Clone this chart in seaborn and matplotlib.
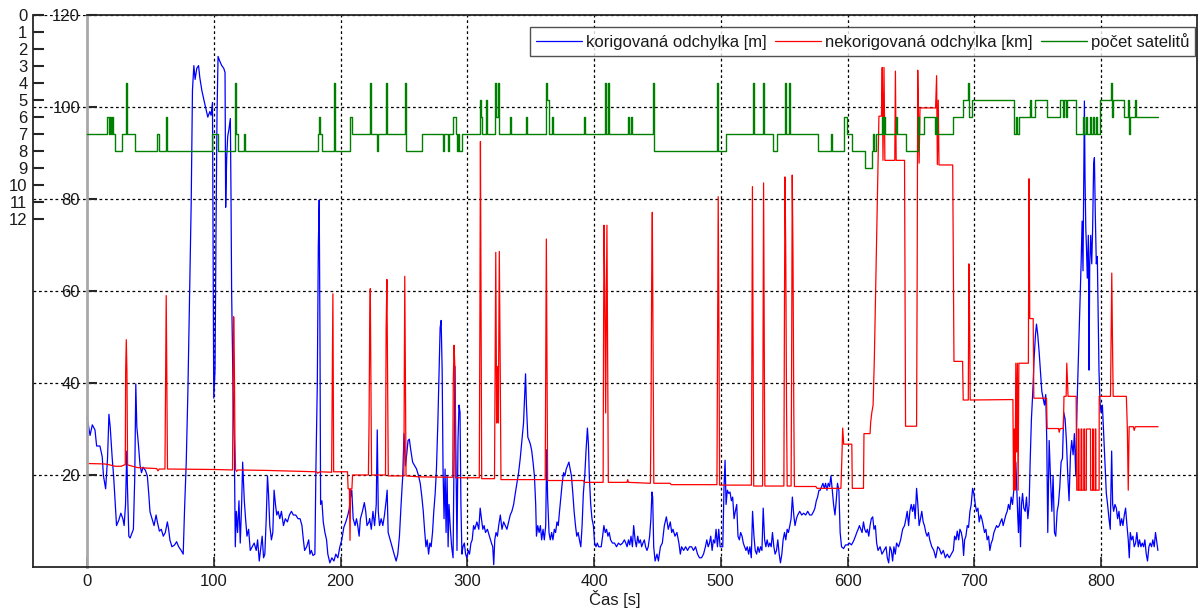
import matplotlib
matplotlib.use("Agg")
import matplotlib.pyplot as plt
import seaborn as sns

# ---------------- data ----------------
x_ticks = [0, 100, 200, 300, 400, 500, 600, 700, 800]
y_ticks = [20, 40, 60, 80, 100, 120]
sat_ticks = list(range(0, 13))
x_label = "Čas [s]"
legend_labels = ["korigovaná odchylka [m]", "nekorigovaná odchylka [km]", "počet satelitů"]

blue_pts = [
(0,32.5),(1,31),(2.4,28.6),(4.2,30.9),(6.3,29.8),(7.6,26.3),(10.2,26.3),(12,24),(13,19.8),(14.7,17),(16.2,23.6),(17.3,33.2),(18.3,30.5),(19.9,23.6),(21,19.8),(22,15.2),(23.3,9),(25.1,10.2),(26.7,11.7),(28.3,10.5),(29.3,9),(30.4,13.6),(31.4,25.2),(31.9,17.5),(33,6.7),(34,6.3),(35.6,7.5),(36.6,8.2),(37.7,19.8),(38.5,39.8),(39.3,30.5),(40.3,27.5),(41.9,22),(43,20.5),(44.2,21.7),(46.1,21),(47.6,19.8),(48.7,16),(49.7,12),(51.3,10.5),(52.9,9),(54.5,11.3),(55.5,9.8),(57.1,7.8),(58.6,8.2),(60.2,6.7),(61.8,7.5),(63.4,9.8),(64.4,8.2),(65.4,5.9),(67,4.4),(69.1,4.8),(70.7,5.5),(72.3,4.4),(74.3,3.6),(75.9,2.8),(77,12.8),(78.3,22.8),(79.6,38.2),(80.9,59),(82.2,79),(83.2,103.6),(84.3,109),(85.3,106),(86.6,108.4),(88,109),(89,106.4),(90.6,103.6),(92.1,101.7),(93.7,99.8),(95.3,97.8),(96.9,99),(97.9,98.2),(99,101),(99.5,71.3),(100,36.7),(101,42.8),(101.8,73.6),(102.6,99),(103.4,111),(104.7,110),(106.3,109),(107.9,108.4),(108.9,107.5),(109.4,78.2),(110.2,89),(111,93.6),(112,95.2),(113.1,97.5),(113.6,81.3),(114.1,59.8),(115.2,39),(116.2,26.7),(117,4.4),(117.8,12.1),(118.8,7.5),(119.9,14.4),(120.9,5.2),(122,13.6),(122.8,22.8),(124.1,14.4),(125.1,10.5),(126.2,6.7),(127.5,8.2),(128.8,3.6),(130.4,4.4),(131.9,5.2),(133.5,3.6),(134.6,5.9),(135.9,1.3),(137.2,4.4),(138.2,6.7),(139.3,2),(140.3,2.8),(141.4,10.5),(142.4,19.8),(143.2,16),(144.2,9),(145.5,5.9),(146.6,7.5),(147.6,16.7),(148.7,13.6),(149.7,11.3),(150.8,12.1),(152.1,10.5),(153.4,12.1),(155,9),(156.5,10.5),(158.1,9.8),(159.7,11.3),(161.3,12.1),(162.8,11.3),(164.7,11.3),(166.5,10.5),(168.1,10.5),(169.6,9),(170.7,5.9),(171.7,3.6),(173.3,4.4),(174.9,5.9),(175.9,2.8),(177,3.6),(178.3,2.5),(179.8,2.8),(180.6,21.3),(181.7,39.8),(182.5,69.8),(183.2,79.8),(183.8,50.5),(184.3,13.6),(185.3,14.4),(186.4,9.8),(187.7,7.5),(189,5.9),(190,2.8),(191.6,0.9),(193.2,2),(194.8,1.3),(196.3,2.8),(197.9,2),(199.5,4.4),(201,5.9),(202.6,8.6),(204.2,9.8),(205.8,11.3),(206.8,12.5),(207.9,15.2),(208.9,16.7),(210,10.5),(211.5,9),(212.6,10.5),(213.6,9),(214.7,6.7),(215.7,10.5),(217.3,12.1),(218.8,14),(219.9,12.1),(220.9,9),(222.5,9.8),
(223,10.5),(224.3,8.2),(225.6,12.1),(226.9,9),(228.2,13.6),(229,29.8),(229.8,12.1),(230.8,9),(232.1,10.5),(233.4,9),(234.7,11.3),(236,14.4),(236.8,16.7),(237.6,7.5),(239.2,5.9),(240.7,4.4),(242.3,2.8),(243.9,1.3),(245.2,2.8),(246.5,6.7),(247.8,13.6),(249.1,19.8),(250.1,29),(251.2,22),(252.2,24.4),(253.3,27.5),(254.3,27.8),(255.4,25.5),(256.9,22.8),(258.5,22),(260,21.3),(261.6,19.8),(262.9,18.2),(264.2,15.2),(265.3,12.1),(266.3,8.2),(267.4,4.4),(268.4,5.9),(269.5,2.8),(270.5,5.2),(271.5,4.4),(272.6,7.5),(273.6,12.1),(274.7,16),(275.7,21.3),(276.8,31.3),(277.8,42.8),(278.6,52),(279.4,53.6),(280.2,42.8),(280.9,21.3),(281.7,10.5),(282.5,21.3),(283.3,7.5),(284.1,19.8),(284.9,4.4),(285.6,13.6),(286.7,8.2),(287.7,4.4),(288.8,2),(289.6,24.4),(290.3,43.6),(291.1,23.6),(291.9,3.6),(292.7,27.5),(293.5,35.2),(294.3,33.6),(295,13.6),(295.8,2.8),(296.6,4.4),(297.7,5.2),(298.7,2.8),(299.7,2),(300.8,3.6),(301.8,2.8),(302.9,5.2),(303.9,5.9),(305,9),(306,8.2),(307.6,9.8),(309.1,8.2),(310.2,12.8),(311.2,10.5),(312.3,8.2),(313.3,9),(314.4,7.5),(315.9,8.2),(317.5,6.7),(319.1,5.2),(320.1,4.4),(320.9,0.5),(321.7,5.9),(322.7,7.5),(323.8,6.7),(324.8,9),(326.1,11.3),(327.4,8.2),(328.7,9.8),(330,9),(331.3,8.2),(332.6,9.8),(333.9,11.3),(335.2,12.1),(336.6,13.6),(337.9,16),(339.2,18.2),(340.5,20.5),(341.8,23.6),(343.1,27.5),(344.4,31.3),(345.2,36.7),(346,42),(346.7,35.2),(347.8,28.2),(348.8,27.5),(349.8,26.7),(350.9,25.2),(351.9,22.8),(353,19.8),(354,13.6),(354.6,6.7),(355.6,9),(356.7,7.5),(357.7,9),(358.7,5.9),(359.8,8.2),(360.8,5.9),(361.9,9),(362.7,25.5),(363.4,15.2),(364.5,7.5),(365.5,5.9),(366.6,7.5),(367.6,5.9),(368.7,8.2),(369.7,7.5),(370.8,9.8),(371.8,9),(372.8,12.1),(373.9,15.2),(374.9,18.2),(376,20.5),(377,19.8),(378.1,21.3),(379.1,22),(380.2,22.8),(381.2,21.3),(382.2,19.8),(383.3,16),(384.3,12.1),(385.4,9),(386.4,6.7),(387.5,7.5),(388.5,5.9),(389.6,4.4),(390.6,9),(391.6,16),(392.7,19.8),(393.7,25.2),(394.8,30.2),(395.6,26.7),(396.3,19.8),(397.4,13.6),(398.4,10.5),(399.5,9),(400.5,5.2),(401.6,4.4),(402.6,5.2),(403.7,4.4),(405.7,4.4),(406.8,6.7),(407.8,9),(408.9,7.5),(409.9,8.2),(411,6.7),(412,7.5),(413.1,5.9),(414.6,5.2),(416.2,5.2),(417.8,4.4),(419.3,5.2),(420.9,4.8),(422.5,5.2),(424,5.9),(425.1,5.2),(426.1,4.4),(427.2,5.9),(428.2,4.8),(429.2,6.7),(430.3,4.4),(431.3,9),(432.4,5.9),(433.4,4.4),(434.5,6.7),(435.5,5.2),(436.6,5.9),(437.6,4.4),(438.6,5.2),(439.7,5.9),(440.7,4.4),(441.8,3.6),(442.8,4.4),(443.9,6.7),(444.9,10.5),(445.7,16.3),
(446.3,15.2),(447.1,4.4),(448.2,1.3),(449.7,2.8),(450.8,1.3),(452.4,4.4),(453.9,5.2),(455.5,9),(457.1,10.9),(458.6,8.2),(460.2,9.8),(461.3,7.5),(462.3,8.2),(463.9,6.7),(465.4,7.5),(467,5.2),(468.1,2.8),(469.1,4.4),(470.7,3.6),(472.3,4.4),(473.8,3.6),(475.4,4.4),(477,4.4),(478.5,3.6),(480.1,4.4),(481.7,2.8),(483.2,2),(484.8,2),(486.4,2.8),(487.9,4.4),(489,5.9),(490.1,4.4),(491.1,5.2),(492.1,6.7),(493.2,3.6),(494.2,5.9),(495.3,5.2),(496.3,8.2),(497.4,4.4),(498.4,8.2),(499.5,4.4),(501.6,4.4),(502.6,17.5),(503.4,23.2),(504.2,13.6),(505.2,16.7),(506.3,16),(507.3,16.3),(508.4,14.4),(509.4,15.2),(510.5,10.5),(511.5,12.1),(512.6,13.6),(513.6,6.7),(514.7,5.9),(515.7,7.5),(516.8,6.7),(517.8,5.2),(518.8,4.4),(519.9,3.6),(520.9,4.4),(522,2.8),(523,4.4),(524.1,2),(525.1,12.1),(526.2,6.7),(527.2,3.6),(528.3,2.8),(529.3,4.4),(530.4,3.2),(531.4,4.4),(532.5,3.6),(533.5,12.8),(534.6,5.9),(535.6,4.4),(536.6,5.9),(537.7,4.4),(538.7,5.2),(539.8,4.4),(540.8,7.5),(541.9,4.4),(542.9,2.8),(544,3.6),(545,5.9),(546.1,2.8),(547.1,0.9),(548.2,2.8),(549.2,5.9),(550.3,7.5),(551.3,5.9),(552.4,8.2),(553.4,7.5),(554.5,9),(555.5,10.5),(556.5,15.2),(557.6,11.3),(558.6,9),(559.7,10.5),(560.7,11.3),(562.3,12.1),(563.9,11.3),(565.4,11.7),(567,11.3),(568.6,12.1),(570.2,11.3),(571.7,11.3),(573.3,12.1),(574.3,12.8),(575.4,14.4),(576.4,15.2),(577.5,16.7),(578.5,16.7),(579.6,17.5),(580.6,18.2),(581.7,17.1),(582.7,18.2),(583.8,16.7),(584.8,18.2),(585.9,17.5),(586.9,19.8),(588,16.7),(589,13.6),(590.1,11.3),(591.1,14.4),(592.1,18.2),(593.2,16.7),(594.2,7.5),(595.3,4.4),(596.9,4),(598.4,4.8),(600,4.8),(601.6,5.2),(603.1,4.8),(604.7,5.6),(606.3,6.7),(607.3,7.5),(608.4,8.2),(609.4,9),(610.5,8.2),(611.5,7.5),(612.6,9.8),(613.6,8.2),(614.7,7.5),(615.7,8.2),(616.8,6.7),(617.8,9),(618.8,10.5),(619.9,10.9),(620.9,8.2),(622,9),(623,5.2),(624.1,3.6),(625.7,4.4),(627.2,2.8),(628.8,3.6),(630.4,4.4),(631.4,2),(632.5,0.9),(633.5,4.4),(634.6,3.6),(635.6,1.3),(636.6,4.4),(637.7,2.8),(638.7,5.2),(640.3,4.4),(641.9,5.9),(643.5,8.2),(645,9),(646.1,10.5),(647.1,12.1),(648.2,9),(649.2,12.1),(650.3,13.6),(651.3,12.1),(652.4,13.6),(653.4,10.5),(654.5,17.1),(655.5,13.6),(656.5,9),(657.6,10.5),(658.6,12.1),(659.7,9.8),(660.7,9),(661.8,7.5),(662.8,6.7),(663.9,7.5),(664.9,5.9),(666.5,4.4),(668.1,3.6),(669.6,2),(671.2,4.4),(672.5,4),
(674,2.8),(675.6,3.6),(677.2,2),(678.7,2.8),(680.3,2),(681.9,2.8),(683.5,3.6),(684.5,6.7),(685.6,5.9),(686.6,7.8),(687.7,5.9),(688.7,8.2),(689.8,7.5),(690.8,5.9),(691.6,2.5),(692.4,5.9),(693.4,6.7),(694.5,9),(695.5,8.6),(696.6,12.1),(697.6,13.6),(698.7,17.1),(699.7,16),(700.8,13.6),(701.8,12.1),(702.9,12.8),(703.9,9.8),(705,11.3),(706,10.5),(707.1,9),(708.1,7.5),(709.2,8.2),(710.2,5.9),(711.3,6.7),(712.3,3.6),(713.4,5.2),(714.4,5.9),(715.5,7.5),(716.5,8.2),(717.6,9),(718.6,8.6),(719.7,9),(720.7,9.8),(721.8,10.5),(722.8,9),(723.9,10.2),(724.9,11.3),(726,12.1),(727,13.6),(728.1,12.5),(729.1,15.2),(730.2,13.6),(731.2,16.7),(732,19.8),(732.8,22.8),(733.6,16.7),(734.4,10.5),(734.9,7.5),(735.7,15.2),(736.5,4.4),(737.3,13.6),(738.1,16),(739.1,12.8),(740.2,12.1),(741.2,15.2),(742.3,10.5),(743.3,13.6),(744.1,22.8),(745.1,32.1),(746.2,38.2),(747.2,45.2),(748.3,50.5),(749.1,52.8),(750.1,50.5),(751.2,46.7),(752.2,42.8),(753.3,38.2),(754.3,36.7),(755.4,35.2),(756.4,37.5),(757.2,27.5),(758,7.5),(759.1,27.5),(760.1,19.8),(761.2,12.1),(762.2,19.8),(763.3,7.5),(764.3,6.7),(765.4,12.1),(766.4,13.6),(767.5,17.5),(768.5,22.8),(769.6,23.6),(770.6,33.6),(771.7,32.1),(772.7,27.5),(773.8,19.8),(774.8,14.4),(775.9,24.4),(776.9,27.5),(778,24.4),(779,29),(780.1,19.8),(781.1,35.2),(782.2,45.9),(783.2,55.2),(784.3,65.9),(785.1,75.2),(785.8,64.4),(786.4,85.9),(786.9,101.3),(787.4,84.4),(788,73.6),(788.5,69.8),(789.2,62.8),(790,72.1),(790.6,42.8),(791.1,65.9),(791.9,72.1),(792.7,65.9),(793.4,73.6),(794.2,87.5),(794.8,89),(795.5,76.7),(796.3,65.9),(797.1,67.5),(797.6,58.2),(798.4,42.8),(799.2,35.9),(800,33.6),(801.1,35.2),(802.1,29),(803.1,22.8),(804.2,16),(805.2,13.6),(806.3,10.5),(807.3,8.2),(808.4,25.2),(809.2,13.6),(810,12.1),(811,13.6),(812.1,12.8),(813.1,10.5),(814.2,12.1),(815.2,9),(816.3,10.5),(817.3,9),(818.4,11.3),(819.4,12.8),(820.5,9),(821.5,5.9),(822.3,2),(823.1,7.5),(824.1,5.9),(825.2,6.7),(826.2,4.4),(827.3,5.2),(828.3,7.5),(829.4,4.4),(830.4,5.9),(831.5,4.4),(832.5,5.2),(833.6,4.4),(834.6,5.9),(835.7,2.8),(836.7,1.3),(837.8,4.4),(838.8,5.2),(839.9,4.4),(840.9,5.9),(842,4.4),(843,7.5),(844.1,5.2),(844.9,3.6),
]
blue_t = [p[0] for p in blue_pts]
blue_v = [p[1] for p in blue_pts]

red_pts = [
(0,22.5),(14,22.4),(18,22.2),(22,21.9),(27,21.9),(29.5,22.2),(30.2,22.2),(30.5,42.5),(31,49.4),(31.5,42.5),(32,22.2),
(40,21.6),(55,21.4),(56,20.9),(57,21.3),(61.5,21.3),(62,40),(62.5,59),(63,40),(63.5,21.3),
(100,21.2),(114.8,21.1),(115.2,38),(115.7,54.4),(116.2,46),(116.7,28),(117.2,21.2),
(118,20.8),(119,21.1),(141,21),(181,20.7),(182,20.4),(184,20.7),(193,20.6),(193.5,40),(194,59.4),(194.6,20.7),
(205.5,20.7),(206,17),(207,17),(207.5,5.8),(208,17),(209,17),(209.5,20),
(222,20),(222.5,30.5),(223,51),(223.5,60.5),(224,40.5),(224.5,20),
(235.5,20),(236,51.7),(236.6,62.5),(237.2,40),(237.7,19.8),
(250,19.8),(250.7,63.2),(251.2,41.7),(251.7,19.8),
(262,19.6),(288.5,19.5),(289,40.9),(289.6,48.2),(290.2,43.6),(290.8,19.4),
(309.5,19.4),(310,55.5),(310.4,92.5),(310.9,55.5),(311.4,19.2),
(321.5,19.2),(322,43.6),(322.5,68.4),(323.2,31.3),(323.8,43.6),(324.5,31.3),(325.3,68.6),(326,43.6),(326.6,19),
(361.5,19),(362,45.9),(362.4,71.3),(362.9,45.9),(363.4,18.8),
(391.5,18.8),(392.5,18.4),(407.2,18.4),(407.5,46.7),(407.9,74.3),(408.5,60.5),(409.2,33.5),(409.8,60),(410.2,74.3),(410.8,46),(411.3,18.4),
(426,18.4),(426.6,19),(427.2,18.4),(444.5,18.2),(445,33),(445.5,62.5),(446,77.1),(446.6,48),(447.2,18.2),
(460,18.2),(461,17.9),(497,17.9),(497.5,49),(498,80.5),(498.6,49),(499.1,17.8),
(524.2,17.8),(524.6,50),(525,82.7),(525.5,50),(526,17.6),
(533,17.6),(533.4,50),(533.8,83.5),(534.3,50),(534.8,17.6),
(549.8,17.6),(550.2,51),(550.7,84.8),(551.3,67.5),(551.9,35),(552.4,17.6),
(555.5,17.6),(556,51),(556.4,85.2),(557,67.5),(557.6,35),(558.1,17.5),
(575,17.5),(576,17.1),(594.8,17.1),(595.5,23),(596.2,30.2),(597,26.7),(603.4,26.7),(603.8,17.1),(612.6,17.1),(613,29),(617.8,29),(618.3,31.5),(619.2,33.6),(620.2,35.2),(621.2,45.5),(622.2,60),(623.2,74.4),(624.2,88.4),(624.8,98),(626.8,98),(627.4,108.6),(628,88.4),(628.8,108.6),(629.5,88.4),(637.3,88.4),(637.8,107.8),(638.4,88.4),(645,88.4),(645.4,60),(645.8,30.6),(654.5,30.6),(655,66),(655.4,108),(655.9,99.8),(656.5,87.8),(657.2,99.8),(669.5,99.8),(670.3,106.8),(670.9,87.5),(671.6,101.5),(672.2,87.4),(683,87.4),(683.5,65.9),(684,44.7),(690.8,44.7),(691.3,36.3),(695.3,36.3),(695.8,65.9),(696.3,55),(696.8,36.3),
(730.5,36.4),(731,16.7),(731.6,30),(732.2,16.7),(732.8,44.3),(733.4,25),(734,44.3),(734.6,16.7),(735.2,44.3),(742.7,44.3),(743.2,84.4),(743.8,54),(746.5,54),(747,36.7),(757,36.7),(757.5,30.1),(766.5,30.1),(767,29.3),(767.8,30.1),(770.3,30.1),(770.8,37.1),(772.5,37.1),(773,44.3),(774,37.1),(780.4,37.1),(780.9,16.7),
(782,16.7),(782.1,30),(782.6,30),(782.7,16.7),(784.2,16.7),(784.3,30),(784.8,30),(784.9,16.7),(786.4,16.7),(786.5,30),(787,30),(787.1,16.7),(788.4,16.7),(788.5,30),(791.7,30),(791.8,16.7),(793.3,16.7),(793.4,30),(793.8,30),(793.9,16.7),(795.4,16.7),(795.5,30),(795.9,30),(796,16.7),(798.5,16.7),(798.6,37.1),
(807.5,37.1),(808,50.4),(808.5,63.9),(809,50.4),(809.6,37.1),(820,37.1),(820.8,30),(821.5,16.7),(822.2,30.5),(825.5,30.5),(826.2,29.7),(827,30.5),(845,30.5),
]
red_t = [p[0] for p in red_pts]
red_v = [p[1] for p in red_pts]

sat_pts = [
(0,7),(16,6),(17.5,7),(18,6),(19,7),(19.5,6),(20.5,7),(22,8),(27.5,7),(30.5,4),(31.5,7),(38,8),(55.5,7),(56.5,8),(62,6),(63,8),
(99,7),(103,8),(116.5,4),(117.3,7),(118.8,8),(123.8,7),(124.5,8),(182.5,7),(183,6),(183.8,7),(185.5,8),(194.5,4),(195.3,8),
(207.5,6),(209,7),(223,4),(223.8,7),(228.5,8),(229.3,7),(236,4),(236.8,7),(250.5,4),(251.3,8),(264.5,7),(280.6,8),(281.8,7),
(284.8,8),(285.5,7),(289,6),(290.8,7),(291.7,8),(292.5,7),(293.5,8),(295.8,7),(310,5),(310.7,6),(311.3,7),(314.5,5),(315.3,7),
(321.8,4),(322.6,6),(324,4),(324.8,7),(334,6),(334.8,7),(346,6),(346.8,7),(362.5,4),(363,5),(364.8,7),(366.8,6),(367.5,7),
(392.5,6),(393.2,7),(408.5,4),(409.5,7),(411,4),(411.8,7),(427,6),(427.8,7),(429.5,6),(430.3,7),(446.5,4),(447.3,8),
(497,4),(497.8,8),(504.5,7),(525.5,4),(526.2,7),(533.3,4),(534,7),(541.5,8),(544,7),(550.5,4),(551.3,7),(553.8,4),(554.7,7),
(577,8),(587,7),(587.7,8),(597.4,6),(599.3,7),(603.5,8),(613.5,9),(619,8),(620,7),(620.8,8),(622.8,7),(627,6),(627.8,7),
(628.5,6),(629.3,7),(638,6),(638.8,7),(646.5,8),(655.8,6),(656.5,7),(660,6),(669,7),(669.8,6),(670.8,7),(683.5,6),
(691.3,5),(695.3,4),(696.2,6),(698.5,5),(731,7),(733,6),(733.5,7),(735.5,6),(743.8,5),(745,6),(747.8,5),(757.3,6),
(767.5,5),(770,6),(770.8,5),(772.5,6),(773.5,5),(780.6,7),(785.5,6),(786.2,7),(788.5,6),(789.2,7),(791,6),(791.8,7),
(793.5,6),(794.2,7),(796,6),(796.7,7),(799,5),(808,4),(808.8,6),(809.8,5),(818.5,6),(821.5,5),(822,7),(822.8,6),
(826.5,5),(827.5,6),(845,6),
]
sat_t = [p[0] for p in sat_pts]
sat_n = [p[1] for p in sat_pts]

# ---------------- style ----------------
sns.set_theme(style="white")
plt.rcParams["font.family"] = ["Liberation Sans", "DejaVu Sans"]
plt.rcParams["axes.linewidth"] = 1.2

W, H = 1199, 608
fig = plt.figure(figsize=(W / 100, H / 100), dpi=100)
fig.patch.set_facecolor("white")
L, R, T, B = 33, 1197, 15, 567
ax = fig.add_axes([L / W, (H - B) / H, (R - L) / W, (B - T) / H])
ax.set_facecolor("white")

px_per = 1.2675  # px per second
x0 = (L - 87) / px_per
x1 = (R - 87) / px_per
ax.set_xlim(x0, x1)
ax.set_ylim(0, 120)

sns.lineplot(x=blue_t, y=blue_v, ax=ax, color="#0000ff", lw=0.9, sort=False, estimator=None)
h_blue = ax.lines[-1]
sns.lineplot(x=red_t, y=red_v, ax=ax, color="#ff0000", lw=0.9, sort=False, estimator=None)
h_red = ax.lines[-1]

ax.set_xticks(x_ticks)
ax.set_yticks(y_ticks)
ax.grid(True, color="black", linestyle=(0, (2.2, 2.2)), linewidth=0.9)
ax.xaxis.get_gridlines()[0].set_visible(False)
ax.set_axisbelow(True)

for s in ["bottom", "right", "top"]:
    ax.spines[s].set_color("#262626")
    ax.spines[s].set_linewidth(1.3)
ax.spines["top"].set_bounds(0, x1)
ax.spines["left"].set_position(("data", 0))
ax.spines["left"].set_color("#a8a8a8")
ax.spines["left"].set_linewidth(2.0)

ax.tick_params(axis="x", direction="in", length=7, width=1.2, color="#262626",
               labelsize=12, pad=5, labelcolor="#1a1a1a", bottom=True, top=False)
ax.tick_params(axis="y", direction="in", length=7, width=1.5, color="#262626",
               labelsize=12, pad=5, labelcolor="#1a1a1a", left=True, right=False)
ax.set_xlabel(x_label, fontsize=12, labelpad=1, color="#1a1a1a")
ax.set_ylabel("")

# satellites axis
ax2 = ax.twinx()
sns.lineplot(x=sat_t, y=sat_n, ax=ax2, color="#008000", lw=1.0, sort=False,
             estimator=None, drawstyle="steps-post")
h_green = ax2.lines[-1]
ax2.set_ylim((B - T) / 17.0, 0)
ax2.set_yticks(sat_ticks)
ax2.yaxis.tick_left()
ax2.yaxis.set_label_position("left")
for s in ["top", "bottom", "right"]:
    ax2.spines[s].set_visible(False)
ax2.spines["left"].set_visible(True)
ax2.spines["left"].set_color("#262626")
ax2.spines["left"].set_linewidth(1.3)
ax2.tick_params(axis="y", direction="in", length=8, width=1.5, color="#262626",
                labelsize=12, pad=4, labelcolor="#1a1a1a", left=True, right=False)
ax2.set_ylabel("")
ax2.set_xlabel("")
ax2.grid(False)

leg = ax2.legend([h_blue, h_red, h_green], legend_labels, loc="upper right",
                 bbox_to_anchor=(0.9985, 0.978), ncol=3, frameon=True, fancybox=False,
                 edgecolor="#262626", fontsize=12, handlelength=2.75, handletextpad=0.25,
                 columnspacing=0.5, borderpad=0.35, borderaxespad=0)
leg.get_frame().set_linewidth(1.0)
for t in leg.get_texts():
    t.set_color("#1a1a1a")

fig.savefig("out.png", dpi=100, facecolor="white")
